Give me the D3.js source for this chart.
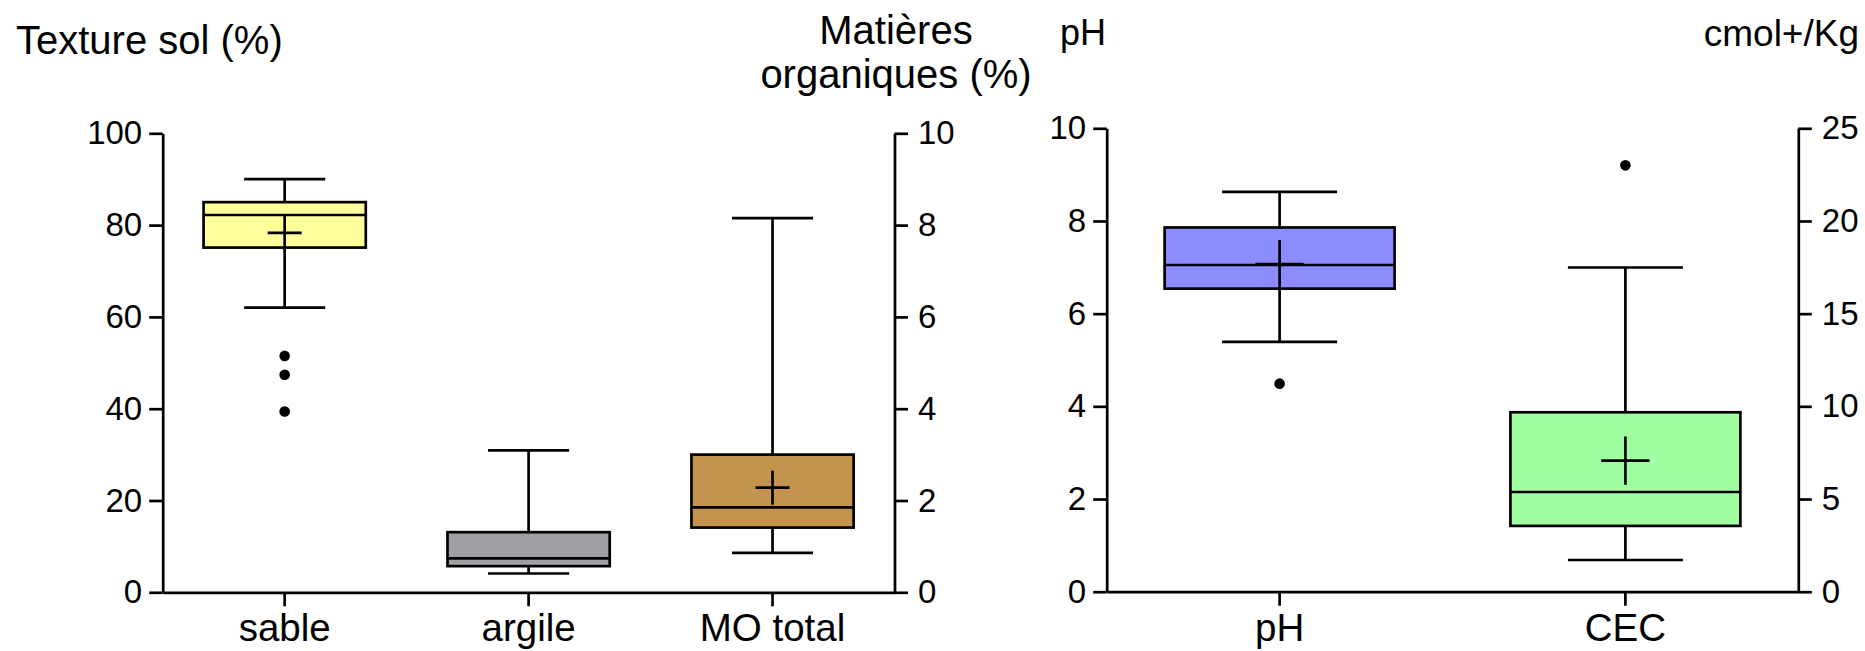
<!DOCTYPE html>
<html>
<head>
<meta charset="utf-8">
<script src="https://cdn.jsdelivr.net/npm/d3@7"></script>
<style>
  html, body { margin: 0; padding: 0; background: #fff; }
  svg { display: block; }
  text { font-family: "Liberation Sans", Arial, sans-serif; fill: #000; }
</style>
</head>
<body>
<svg id="chart" width="1865" height="651"></svg>
<script>
// ---------- DATA ----------
const leftCategories = ["sable", "argile", "MO total"];
// [whisker low, Q1, median, Q3, whisker high]
const leftBoxes = [
  [62.0, 75.1, 82.2, 85.0, 90.0],
  [4.1, 5.7, 7.4, 13.1, 30.9],
  [0.86, 1.41, 1.85, 3.00, 8.15]
];
const leftMeans = [78.3, null, 2.28];
const leftOutliers = [[51.5, 47.4, 39.4], [], []];
const leftAxisSide = ["left", "left", "right"];
const leftColors = ["#FFFF9C", "#A0A0A4", "#C4944F"];
const leftTicksL = [0, 20, 40, 60, 80, 100];
const leftTicksR = [0, 2, 4, 6, 8, 10];

const rightCategories = ["pH", "CEC"];
const rightBoxes = [
  [5.39, 6.54, 7.05, 7.86, 8.63],
  [1.71, 3.55, 5.38, 9.68, 17.49]
];
const rightMeans = [7.07, 7.07];
const rightOutliers = [[4.49], [23.0]];
const rightAxisSide = ["left", "right"];
const rightColors = ["#8C8CFF", "#A0FFA0"];
const rightTicksL = [0, 2, 4, 6, 8, 10];
const rightTicksR = [0, 5, 10, 15, 20, 25];

// ---------- DRAW ----------
const svg = d3.select("#chart");
const LW = 2.7;

function panel(cfg) {
  const g = svg.append("g");
  const x = d3.scaleBand().domain(cfg.categories).range([cfg.x0, cfg.x1]).padding(0);
  const yL = d3.scaleLinear().domain(cfg.domL).range([cfg.yBottom, cfg.yTop]);
  const yR = d3.scaleLinear().domain(cfg.domR).range([cfg.yBottom, cfg.yTop]);
  const bw = x.bandwidth() * 0.665;
  const capW = bw * 0.5;
  const crossH = bw * 0.105;

  // axes
  const axL = g.append("g").attr("transform", `translate(${cfg.x0},0)`)
    .call(d3.axisLeft(yL).tickValues(cfg.ticksL).tickSize(13.5).tickSizeOuter(0).tickPadding(7));
  const axR = g.append("g").attr("transform", `translate(${cfg.x1},0)`)
    .call(d3.axisRight(yR).tickValues(cfg.ticksR).tickSize(13.5).tickSizeOuter(0).tickPadding(10));
  const axB = g.append("g").attr("transform", `translate(0,${cfg.yBottom})`)
    .call(d3.axisBottom(x).tickSize(14).tickSizeOuter(0).tickPadding(10));
  [axL, axR, axB].forEach(a => {
    a.select(".domain").attr("stroke", "#000").attr("stroke-width", LW);
    a.selectAll(".tick line").attr("stroke", "#000").attr("stroke-width", LW);
  });
  [axL, axR].forEach(a => a.selectAll(".tick text").attr("font-size", 33).attr("font-family", "Liberation Sans, Arial, sans-serif"));
  axB.selectAll(".tick text").attr("font-size", 38.5).attr("font-family", "Liberation Sans, Arial, sans-serif")
    .attr("dy", null).attr("y", 49);

  // boxes
  cfg.categories.forEach((c, i) => {
    const y = cfg.side[i] === "left" ? yL : yR;
    const [lo, q1, med, q3, hi] = cfg.boxes[i];
    const cx = x(c) + x.bandwidth() / 2;
    const bg = g.append("g");
    bg.append("line").attr("x1", cx).attr("x2", cx).attr("y1", y(lo)).attr("y2", y(hi))
      .attr("stroke", "#000").attr("stroke-width", LW);
    [lo, hi].forEach(v => bg.append("line")
      .attr("x1", cx - capW / 2).attr("x2", cx + capW / 2).attr("y1", y(v)).attr("y2", y(v))
      .attr("stroke", "#000").attr("stroke-width", LW));
    bg.append("rect").attr("x", cx - bw / 2).attr("width", bw)
      .attr("y", y(q3)).attr("height", y(q1) - y(q3))
      .attr("fill", cfg.colors[i]).attr("stroke", "#000").attr("stroke-width", LW);
    bg.append("line").attr("x1", cx - bw / 2).attr("x2", cx + bw / 2).attr("y1", y(med)).attr("y2", y(med))
      .attr("stroke", "#000").attr("stroke-width", LW);
    const m = cfg.means[i];
    if (m != null) {
      bg.append("line").attr("x1", cx - crossH).attr("x2", cx + crossH).attr("y1", y(m)).attr("y2", y(m))
        .attr("stroke", "#000").attr("stroke-width", LW);
      bg.append("line").attr("x1", cx).attr("x2", cx).attr("y1", y(m) - crossH).attr("y2", y(m) + crossH)
        .attr("stroke", "#000").attr("stroke-width", LW);
    }
    bg.selectAll("circle.o").data(cfg.outliers[i]).enter().append("circle")
      .attr("cx", cx).attr("cy", d => y(d)).attr("r", 5.3).attr("fill", "#000");
  });
  return g;
}

panel({
  categories: leftCategories, boxes: leftBoxes, means: leftMeans, outliers: leftOutliers,
  side: leftAxisSide, colors: leftColors,
  x0: 162.7, x1: 894.5, yTop: 133.3, yBottom: 592.3,
  domL: [0, 100], domR: [0, 10], ticksL: leftTicksL, ticksR: leftTicksR
});
panel({
  categories: rightCategories, boxes: rightBoxes, means: rightMeans, outliers: rightOutliers,
  side: rightAxisSide, colors: rightColors,
  x0: 1106.7, x1: 1798.3, yTop: 128.3, yBottom: 591.7,
  domL: [0, 10], domR: [0, 25], ticksL: rightTicksL, ticksR: rightTicksR
});

// titles
const T = (txt, x, y, anchor, size) => svg.append("text").attr("x", x).attr("y", y)
  .attr("text-anchor", anchor).attr("font-size", size).text(txt);
T("Texture sol (%)", 16, 54, "start", 40);
T("Matières", 896, 44, "middle", 40);
T("organiques (%)", 896, 88, "middle", 40);
T("pH", 1060, 45, "start", 36);
T("cmol+/Kg", 1859, 46, "end", 37);
</script>
</body>
</html>
